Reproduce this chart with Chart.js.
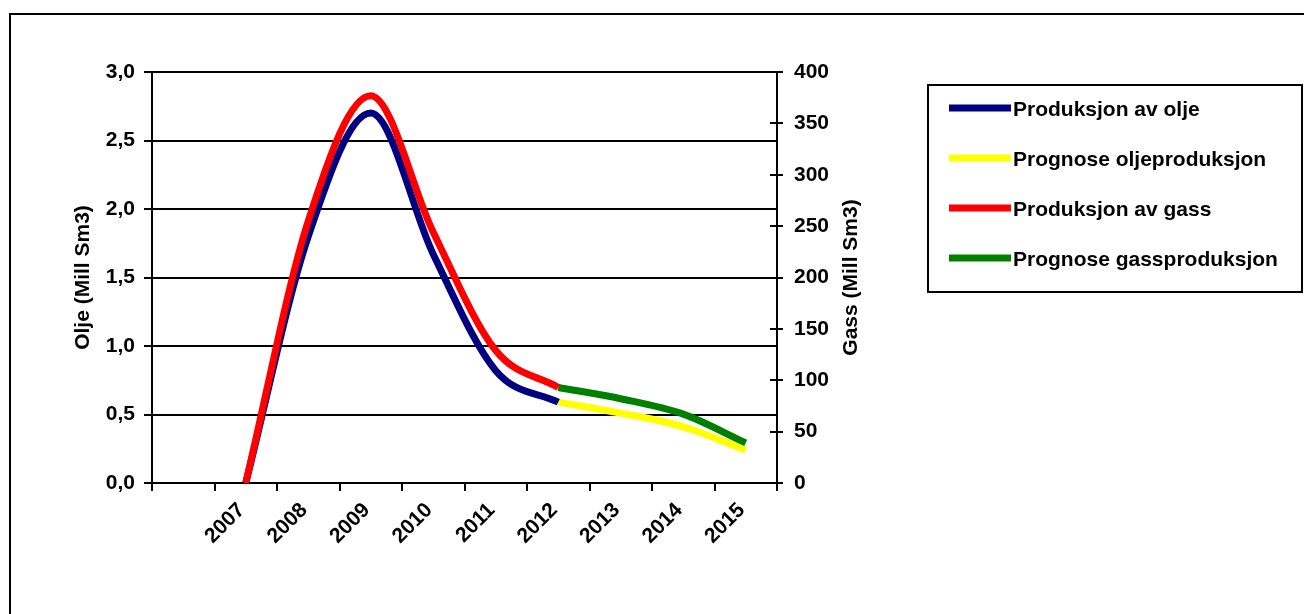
<!DOCTYPE html>
<html>
<head>
<meta charset="utf-8">
<style>
  html, body { margin: 0; padding: 0; background: #ffffff; overflow: hidden; }
  #wrap { position: relative; width: 1304px; height: 614px; }
</style>
<script src="https://cdn.jsdelivr.net/npm/chart.js@4.4.1/dist/chart.umd.min.js"></script>
</head>
<body>
<div id="wrap"><canvas id="chart" width="1304" height="614"></canvas></div>
<script>
// Years on the category axis (first band is left without a label)
const years = ['', '2007', '2008', '2009', '2010', '2011', '2012', '2013', '2014', '2015'];

// Oil, million Sm3 (left axis)
const oilProduced = [null, 0, 1.80, 2.70, 1.67, 0.82, 0.59, null, null, null];
const oilForecast = [null, null, null, null, null, null, 0.59, 0.51, 0.41, 0.24];

// Gas, million Sm3 (right axis)
const gasProduced = [null, 0, 255, 377, 244, 129, 93, null, null, null];
const gasForecast = [null, null, null, null, null, null, 93, 82, 67, 39];

// Axis ranges and steps
const oilAxis = { min: 0, max: 3, step: 0.5 };
const gasAxis = { min: 0, max: 400, step: 50 };

const seriesNames = ['Produksjon av olje', 'Prognose oljeproduksjon', 'Produksjon av gass', 'Prognose gassproduksjon'];
const seriesColors = ['#000080', '#FFFF00', '#FF0000', '#008000'];

const FONT = "'Liberation Sans', Arial, Helvetica, sans-serif";
Chart.defaults.font.family = FONT;
Chart.defaults.font.size = 21;
Chart.defaults.font.weight = 'bold';
Chart.defaults.color = '#000000';

// Outer frame of the chart object
const framePlugin = {
  id: 'frame',
  beforeDraw(chart) {
    const ctx = chart.ctx;
    ctx.save();
    ctx.fillStyle = '#ffffff';
    ctx.fillRect(0, 0, chart.width, chart.height);
    ctx.strokeStyle = '#000000';
    ctx.lineWidth = 2;
    ctx.beginPath();
    ctx.moveTo(10, chart.height + 5);
    ctx.lineTo(10, 14);
    ctx.lineTo(chart.width + 5, 14);
    ctx.stroke();
    ctx.restore();
  }
};

// Inner half of the cross ticks on the gas axis, and its title (reads bottom to top)
const gasAxisExtras = {
  id: 'gasAxisExtras',
  afterDraw(chart) {
    const s = chart.scales.y2;
    const ctx = chart.ctx;
    ctx.save();
    ctx.strokeStyle = '#000000';
    ctx.lineWidth = 2;
    s.ticks.forEach(t => {
      const y = Math.round(s.getPixelForValue(t.value));
      ctx.beginPath();
      ctx.moveTo(s.left - 7, y);
      ctx.lineTo(s.left, y);
      ctx.stroke();
    });
    ctx.translate(851, (chart.chartArea.top + chart.chartArea.bottom) / 2);
    ctx.rotate(-Math.PI / 2);
    ctx.font = 'bold 21px ' + FONT;
    ctx.fillStyle = '#000000';
    ctx.textAlign = 'center';
    ctx.textBaseline = 'middle';
    ctx.fillText('Gass (Mill Sm3)', 0, 0);
    ctx.restore();
  }
};

// Boxed legend to the right of the plot
const boxLegend = {
  id: 'boxLegend',
  afterDraw(chart) {
    const ctx = chart.ctx;
    ctx.save();
    ctx.strokeStyle = '#000000';
    ctx.lineWidth = 2;
    ctx.strokeRect(928, 85, 374, 207);
    ctx.font = 'bold 21px ' + FONT;
    ctx.textAlign = 'left';
    ctx.textBaseline = 'middle';
    chart.data.datasets.forEach((ds, i) => {
      const y = 108 + i * 50;
      ctx.fillStyle = ds.borderColor;
      ctx.fillRect(949, y - 3.5, 62, 7);
      ctx.fillStyle = '#000000';
      ctx.fillText(ds.label, 1013, y + 2);
    });
    ctx.restore();
  }
};

const lineStyle = {
  borderWidth: 7,
  pointRadius: 0,
  pointHoverRadius: 0,
  cubicInterpolationMode: 'monotone',
  fill: false,
  spanGaps: false,
  borderJoinStyle: 'round'
};

new Chart(document.getElementById('chart'), {
  type: 'line',
  data: {
    labels: years,
    datasets: [
      Object.assign({ label: seriesNames[0], data: oilProduced, borderColor: seriesColors[0], yAxisID: 'y', order: 2 }, lineStyle),
      Object.assign({ label: seriesNames[1], data: oilForecast, borderColor: seriesColors[1], yAxisID: 'y', order: 3 }, lineStyle),
      Object.assign({ label: seriesNames[2], data: gasProduced, borderColor: seriesColors[2], yAxisID: 'y2', order: 0 }, lineStyle),
      Object.assign({ label: seriesNames[3], data: gasForecast, borderColor: seriesColors[3], yAxisID: 'y2', order: 1 }, lineStyle)
    ]
  },
  options: {
    responsive: false,
    animation: false,
    devicePixelRatio: 1,
    layout: { padding: { top: 72, left: 0, right: 407, bottom: 0 } },
    plugins: { legend: { display: false }, tooltip: { enabled: false } },
    scales: {
      x: {
        type: 'category',
        offset: true,
        afterFit(s) { s.height = 614 - 483; },
        grid: { display: true, drawOnChartArea: false, drawTicks: true, tickLength: 8, offset: true, color: '#000000', lineWidth: 2 },
        border: { display: true, color: '#000000', width: 2 },
        ticks: { autoSkip: false, minRotation: 45, maxRotation: 45, padding: 7, labelOffset: -4, color: '#000000', font: { size: 21, weight: 'bold' } }
      },
      y: {
        position: 'left',
        min: oilAxis.min,
        max: oilAxis.max,
        afterFit(s) { s.width = 152; },
        grid: { color: '#000000', lineWidth: 2, drawTicks: true, tickLength: 8 },
        border: { display: true, color: '#000000', width: 2 },
        ticks: {
          stepSize: oilAxis.step,
          padding: 9,
          color: '#000000',
          font: { size: 21, weight: 'bold' },
          callback: v => v.toFixed(1).replace('.', ',')
        },
        title: { display: true, text: 'Olje (Mill Sm3)', color: '#000000', font: { size: 21, weight: 'bold' }, padding: { top: 71, bottom: 0 } }
      },
      y2: {
        position: 'right',
        min: gasAxis.min,
        max: gasAxis.max,
        afterFit(s) { s.width = 120; },
        grid: { drawOnChartArea: false, color: '#000000', lineWidth: 2, drawTicks: true, tickLength: 6 },
        border: { display: true, color: '#000000', width: 2 },
        ticks: { stepSize: gasAxis.step, padding: 11, color: '#000000', font: { size: 21, weight: 'bold' } }
      }
    }
  },
  plugins: [framePlugin, gasAxisExtras, boxLegend]
});
</script>
</body>
</html>
